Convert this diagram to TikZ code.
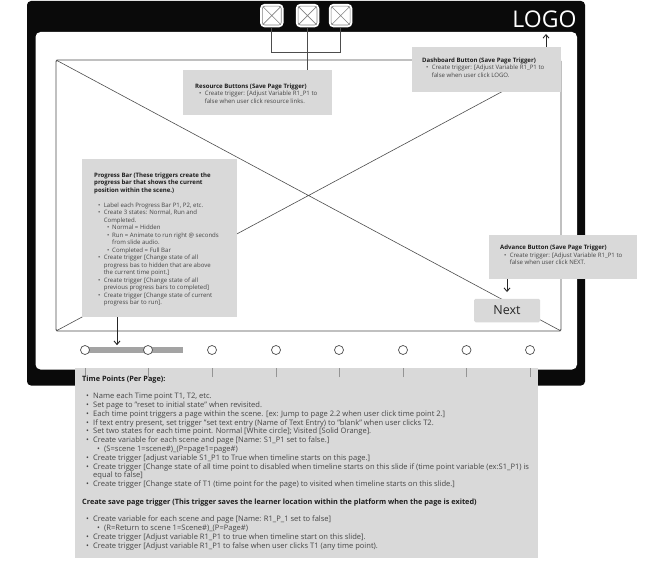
\documentclass[tikz,border=0pt]{standalone}
\usepackage{fontspec}
\setmainfont{Open Sans}
\usetikzlibrary{arrows.meta}
\definecolor{cbox}{HTML}{D9D9D9}
\definecolor{ctxt}{HTML}{454545}
\definecolor{cbold}{HTML}{1E1E1E}
\definecolor{cline}{HTML}{4D4D4D}
\definecolor{cframe}{HTML}{0A0A0A}
\definecolor{cbar}{HTML}{A3A3A3}
\newcommand\tb[1]{{\color{cbold}\bfseries #1}}
\newcommand\tbb[1]{{\fontsize{7.3}{8.8}\selectfont\color{cbold}\bfseries #1}}
% small-callout list items
\newcommand\sbi[1]{\hspace*{4pt}\makebox[5.6pt][l]{•}#1}
\newcommand\sbc[1]{\hspace*{9.6pt}#1}
\newcommand\sbs[1]{\hspace*{13pt}\makebox[5pt][l]{•}#1}
\newcommand\sbd[1]{\hspace*{18pt}#1}
% big-box list items
\newcommand\bbi[1]{\hspace*{4pt}\makebox[7pt][l]{•}#1}
\newcommand\bbc[1]{\hspace*{11pt}#1}
\newcommand\bbs[1]{\hspace*{15pt}\makebox[7pt][l]{•}#1}
\begin{document}
\begin{tikzpicture}[x=1pt,y=-1pt,
  box/.style={fill=cbox,draw=none,inner sep=0pt,anchor=north west},
  smalltxt/.style={inner sep=0pt,anchor=north west,align=left,text=ctxt,font=\fontsize{6.05}{7.5}\selectfont},
  bigtxt/.style={inner sep=0pt,anchor=north west,align=left,text=ctxt,font=\fontsize{7.55}{8.8}\selectfont},
  wire/.style={draw=cline,line width=0.7pt},
  arr/.style={draw=black!85,line width=0.9pt,-{Straight Barb[length=3.5pt,width=6pt]}},
  iconbox/.style={fill=white,draw=none,rounded corners=4.5pt,minimum width=23.5pt,minimum height=23.5pt,inner sep=0pt},
  dot/.style={circle,draw=cline,fill=white,line width=0.7pt,minimum size=9pt,inner sep=0pt},
  tick/.style={draw=cline!60,line width=0.8pt}]
\useasboundingbox (0,0) rectangle (658,561);
% frame
\fill[cframe,rounded corners=4pt] (27,1) rectangle (585,385.5);
\fill[white,rounded corners=5pt] (35.5,32) rectangle (577,369.5);
% placeholder
\draw[draw=cline,line width=0.9pt,rounded corners=1.5pt] (56,60) rectangle (561,331);
\draw[draw=cline,line width=0.6pt] (56,60) -- (561,331) (561,60) -- (56,331);
% icons
\foreach \n/\x in {a/271.8,b/307.5,c/340.6}{
  \node[iconbox] (icon\n) at (\x,15.6) {};
  \draw[draw=cline!70,line width=0.6pt,rounded corners=2.5pt] ([shift={(2.5,2.5)}]icon\n.north west) rectangle ([shift={(-2.5,-2.5)}]icon\n.south east);
  \draw[draw=cline!70,line width=0.6pt] ([shift={(3,3)}]icon\n.north west) -- ([shift={(-3,-3)}]icon\n.south east)
     ([shift={(-3,3)}]icon\n.north east) -- ([shift={(3,-3)}]icon\n.south west);
}
\node[text=white,inner sep=0pt,font=\fontsize{23}{24}\selectfont] (logo) at (544.5,19) {LOGO};
% callouts
\node[box,minimum width=149pt,minimum height=45pt] (res) at (183,70) {};
\node[smalltxt] (rest) at (195,83.4) {\tb{Resource Buttons (Save Page Trigger)}\\
  \sbi{Create trigger: [Adjust Variable R1\_P1 to}\\
  \sbc{false when user click resource links.}};
\node[box,minimum width=149pt,minimum height=45pt] (dash) at (412,47) {};
\node[smalltxt] (dasht) at (422,57.4) {\tb{Dashboard Button (Save Page Trigger)}\\
  \sbi{Create trigger: [Adjust Variable R1\_P1 to}\\
  \sbc{false when user click LOGO.}};
\node[box,minimum width=155pt,minimum height=158pt] (prog) at (82,159) {};
\node[smalltxt] (progt) at (94,172.6) {\tb{Progress Bar (These triggers create the}\\
  \tb{progress bar that shows the current}\\
  \tb{position within the scene.)}\\[7.5pt]
  \sbi{Label each Progress Bar P1, P2, etc.}\\
  \sbi{Create 3 states: Normal, Run and}\\
  \sbc{Completed.}\\
  \sbs{Normal = Hidden}\\
  \sbs{Run = Animate to run right @ seconds}\\
  \sbd{from slide audio.}\\
  \sbs{Completed = Full Bar}\\
  \sbi{Create trigger [Change state of all}\\
  \sbc{progress bas to hidden that are above}\\
  \sbc{the current time point.]}\\
  \sbi{Create trigger [Change state of all}\\
  \sbc{previous progress bars to completed]}\\
  \sbi{Create trigger [Change state of current}\\
  \sbc{progress bar to run].}};
\node[box,minimum width=148pt,minimum height=44pt] (adv) at (489,235) {};
\node[smalltxt] (advt) at (500,244.9) {\tb{Advance Button (Save Page Trigger)}\\
  \sbi{Create trigger: [Adjust Variable R1\_P1 to}\\
  \sbc{false when user click NEXT.}};
\node[fill=cbox,rounded corners=1.5pt,minimum width=66pt,minimum height=23.5pt,inner sep=0pt,text=black!85,font=\fontsize{12.5}{14}\selectfont] (next) at (507,310.5) {Next};
% timeline
\fill[cbar] (85,346.5) rectangle (183,353);
\coordinate (barend) at (183,350);
\foreach \n/\x in {1/85,2/148,3/212,4/276,5/339,6/403,7/466.5,8/530}{
  \node[dot] (t\n) at (\x,350) {};
}
\node[box,minimum width=462.5pt,minimum height=190.5pt] (time) at (75,367.5) {};
\foreach \n in {1,...,8}{
  \coordinate (tk\n) at (t\n |- time.north);
  \draw[tick] ([yshift=-9.5pt]tk\n) -- (tk\n);
}
\node[bigtxt] (timet) at (82,375.4) {\tbb{Time Points (Per Page):}\\[8.8pt]
  \bbi{Name each Time point T1, T2, etc.}\\
  \bbi{Set page to "reset to initial state" when revisited.}\\
  \bbi{Each time point triggers a page within the scene. [ex: Jump to page 2.2 when user click time point 2.]}\\
  \bbi{If text entry present, set trigger "set text entry (Name of Text Entry) to "blank" when user clicks T2.}\\
  \bbi{Set two states for each time point. Normal [White circle]; Visited [Solid Orange].}\\
  \bbi{Create variable for each scene and page [Name: S1\_P1 set to false.]}\\
  \bbs{(S=scene 1=scene\#)\_(P=page1=page\#)}\\
  \bbi{Create trigger [adjust variable S1\_P1 to True when timeline starts on this page.]}\\
  \bbi{Create trigger [Change state of all time point to disabled when timeline starts on this slide if (time point variable (ex:S1\_P1) is}\\
  \bbc{equal to false]}\\
  \bbi{Create trigger [Change state of T1 (time point for the page) to visited when timeline starts on this slide.]}\\[8.8pt]
  \tbb{Create save page trigger (This trigger saves the learner location within the platform when the page is exited)}\\[8.8pt]
  \bbi{Create variable for each scene and page [Name: R1\_P\_1 set to false]}\\
  \bbs{(R=Return to scene 1=Scene\#)\_(P=Page\#)}\\
  \bbi{Create trigger [Adjust variable R1\_P1 to true when timeline start on this slide].}\\
  \bbi{Create trigger [Adjust variable R1\_P1 to false when user clicks T1 (any time point).}};
% connectors
\coordinate (resjoin) at (iconb.south |- 0,52.5);
\draw[wire] (iconb.south) -- (iconb.south |- res.north);
\draw[wire] (icona.south) |- (resjoin) -| (iconc.south);
\coordinate (dashup) at (546,47);
\coordinate (dashtip) at (546,34);
\draw[arr] (dashup) -- (dashtip);
\coordinate (progout) at (117,317);
\draw[arr] (progout) -- (progout |- t1.north);
\coordinate (advout) at (next.north |- adv.south);
\draw[arr,shorten >=6.5pt] (advout) -- (next.north);
\end{tikzpicture}
\end{document}
